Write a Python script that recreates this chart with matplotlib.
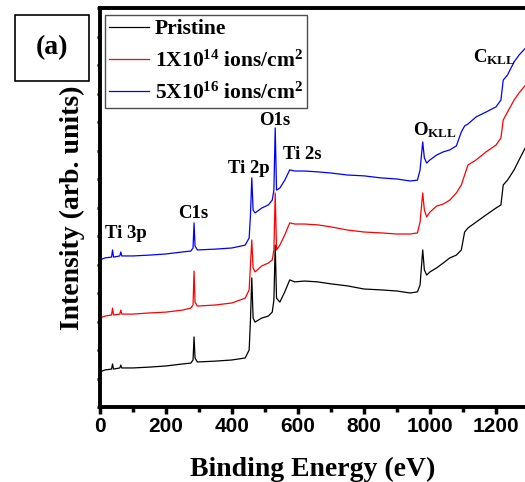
import matplotlib
matplotlib.use("Agg")
import matplotlib.pyplot as plt
from matplotlib.ticker import MultipleLocator

plt.rcParams['mathtext.fontset'] = 'custom'
plt.rcParams['mathtext.bf'] = 'Liberation Serif:bold'
plt.rcParams['mathtext.rm'] = 'Liberation Serif:bold'
plt.rcParams['mathtext.default'] = 'bf'

# binding energy grid (eV), shared by the three spectra
energy = [0, 15, 35, 38, 41, 60, 63, 66, 100, 150, 200, 250, 275, 282, 285, 288,
          295, 350, 400, 440, 452, 456, 460, 464, 470, 490, 510, 522, 527, 531,
          535, 545, 560, 575, 590, 620, 660, 700, 750, 800, 850, 900, 940, 962,
          970, 978, 983, 990, 1000, 1020, 1040, 1060, 1080, 1095, 1105, 1115,
          1140, 1170, 1200, 1215, 1222, 1235, 1255, 1270, 1290]

pristine = [1.23, 1.30, 1.33, 1.51, 1.33, 1.37, 1.47, 1.37, 1.37, 1.40, 1.44, 1.51,
            1.54, 1.65, 2.46, 1.72, 1.58, 1.61, 1.65, 1.72, 2.00, 3.05, 4.53, 3.12,
            2.98, 3.12, 3.19, 3.33, 3.75, 5.68, 3.82, 3.68, 4.04, 4.46, 4.39, 4.42,
            4.39, 4.32, 4.25, 4.14, 4.11, 4.07, 4.00, 4.04, 4.28, 5.51, 4.81, 4.63,
            4.74, 4.88, 5.05, 5.23, 5.33, 5.51, 6.14, 6.28, 6.49, 6.74, 6.98, 7.09,
            7.79, 7.96, 8.32, 8.67, 9.12]

dose_1e14 = [3.12, 3.19, 3.23, 3.47, 3.23, 3.26, 3.40, 3.26, 3.26, 3.30, 3.33, 3.40,
             3.47, 3.58, 4.77, 3.68, 3.54, 3.58, 3.65, 3.82, 4.11, 4.98, 5.86, 4.88,
             4.74, 4.95, 5.05, 5.16, 5.51, 7.51, 5.51, 5.68, 6.04, 6.46, 6.42, 6.42,
             6.39, 6.32, 6.21, 6.14, 6.11, 6.07, 6.07, 6.11, 6.49, 7.51, 6.91, 6.67,
             6.84, 7.05, 7.12, 7.26, 7.51, 7.79, 8.14, 8.49, 8.67, 8.95, 9.19, 9.44,
             10.07, 10.35, 10.77, 11.02, 11.30]

dose_5e16 = [5.16, 5.23, 5.26, 5.51, 5.26, 5.30, 5.44, 5.30, 5.30, 5.33, 5.37, 5.44,
             5.47, 5.58, 6.46, 5.65, 5.51, 5.54, 5.58, 5.68, 5.93, 6.74, 8.04, 6.91,
             6.81, 6.98, 7.09, 7.26, 7.61, 9.79, 7.61, 7.68, 7.96, 8.32, 8.28, 8.28,
             8.25, 8.21, 8.14, 8.11, 8.04, 8.00, 7.93, 7.96, 8.32, 9.30, 8.74, 8.56,
             8.67, 8.84, 8.95, 9.02, 9.16, 9.65, 9.86, 9.93, 10.18, 10.35, 10.53, 10.77,
             11.47, 11.65, 12.11, 12.35, 12.60]

series_labels = ['Pristine', r'1X10$^{14}$ ions/cm$^{2}$', r'5X10$^{16}$ ions/cm$^{2}$']
series_colors = ['black', 'red', 'blue']

# peak labels: (text, energy, intensity at baseline)
peak_labels = [('Ti 3p', 15, 5.93), ('C1s', 236, 6.63), ('Ti 2p', 388, 8.21),
               ('O1s', 482, 9.89), ('Ti 2s', 555, 8.70), (r'O$_{\mathrm{KLL}}$', 948, 9.54),
               (r'C$_{\mathrm{KLL}}$', 1130, 12.1)]

serif = 'Liberation Serif'

fig = plt.figure(figsize=(5.25, 4.82), dpi=100)
ax = fig.add_axes([100 / 525, 1 - 407 / 482, 1 - 100 / 525, 399 / 482])

for y, lab, col in zip([pristine, dose_1e14, dose_5e16], series_labels, series_colors):
    ax.plot(energy, y, color=col, lw=0.9, label=lab)

for txt, x, y in peak_labels:
    ax.text(x, y, txt, family=serif, weight='bold', fontsize=13.5, ha='left', va='baseline')

ax.set_xlim(0, 1288)
ax.set_ylim(0, 14)
ax.xaxis.set_major_locator(MultipleLocator(200))
ax.xaxis.set_minor_locator(MultipleLocator(100))
ax.yaxis.set_major_locator(MultipleLocator(1))
ax.set_yticklabels([])
ax.tick_params(axis='x', which='major', direction='out', length=5, width=2.5, pad=2)
ax.tick_params(axis='x', which='minor', direction='out', length=3.5, width=2.5)
ax.tick_params(axis='y', which='major', direction='out', length=2.5, width=2)
for lbl in ax.get_xticklabels():
    lbl.set_family('Liberation Sans')
    lbl.set_weight('bold')
    lbl.set_fontsize(15)

for s in ['left', 'bottom', 'top']:
    ax.spines[s].set_linewidth(2.8)
ax.spines['right'].set_visible(False)

ax.set_xlabel('Binding Energy (eV)', family=serif, weight='bold', fontsize=20, labelpad=15)
ax.set_ylabel('Intensity (arb. units)', family=serif, weight='bold', fontsize=20, labelpad=5)

leg = ax.legend(loc='upper left', bbox_to_anchor=(105 / 525, 1 - 15 / 482),
                bbox_transform=fig.transFigure, borderaxespad=0,
                prop={'family': serif, 'weight': 'bold', 'size': 15.5},
                handlelength=1.85, handletextpad=0.25, labelspacing=0.5,
                borderpad=0.2, fancybox=False, framealpha=1)
leg.get_frame().set_edgecolor('0.3')
leg.get_frame().set_linewidth(1.0)

fig.text(52 / 525, 1 - 48 / 482, '(a)', family=serif, weight='bold', fontsize=20,
         ha='center', va='center',
         bbox=dict(boxstyle='square,pad=0.75', fc='white', ec='black', lw=1.2))

fig.savefig('out.png', dpi=100)
